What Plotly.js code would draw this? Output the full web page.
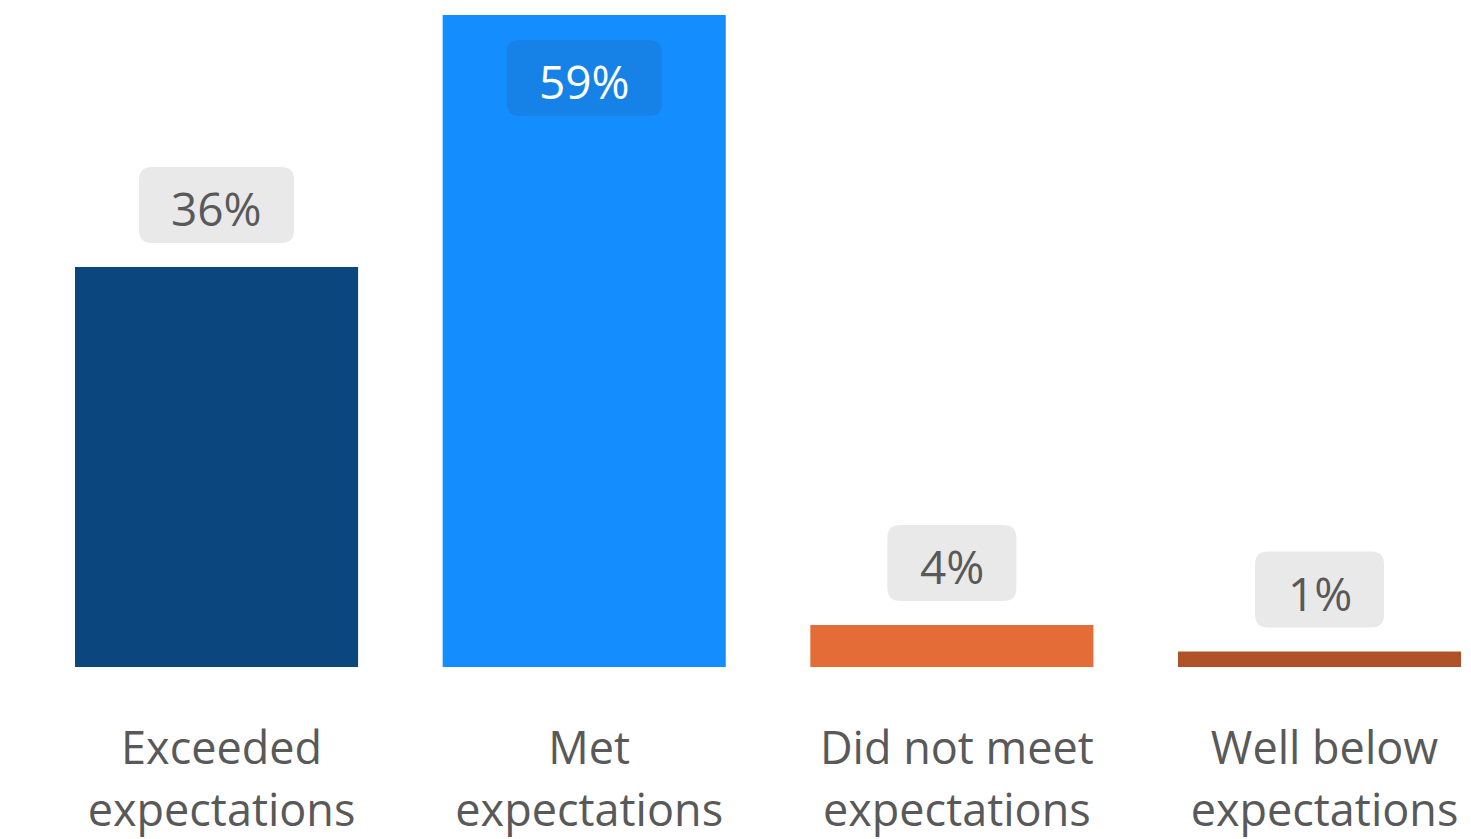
<!DOCTYPE html>
<html>
<head>
<meta charset="utf-8">
<script src="https://cdn.plot.ly/plotly-3.0.1.min.js"></script>
<style>html,body{margin:0;padding:0;background:#fff;}#chart{width:1471px;height:839px;}</style>
</head>
<body>
<div id="chart"></div>
<script>
// Data
const categories = ["Exceeded<br>expectations", "Met<br>expectations", "Did not meet<br>expectations", "Well below<br>expectations"];
const values = [36.2, 59, 3.8, 1.4];
const valueLabels = ["36%", "59%", "4%", "1%"];
const barColors = ["#0B467E", "#148DFF", "#E46C37", "#B05228"];

const FONT = "Open Sans, Noto Sans, DejaVu Sans, sans-serif";
const yMax = 60.36;
const maxVal = Math.max(...values);

function roundedRect(x0, x1, y0, y1, r) {
  return `M${x0 + r},${y0} L${x1 - r},${y0} Q${x1},${y0} ${x1},${y0 + r} ` +
         `L${x1},${y1 - r} Q${x1},${y1} ${x1 - r},${y1} L${x0 + r},${y1} ` +
         `Q${x0},${y1} ${x0},${y1 - r} L${x0},${y0 + r} Q${x0},${y0} ${x0 + r},${y0} Z`;
}

const shapes = [];
const annotations = [];
values.forEach((v, i) => {
  const inside = v === maxVal;
  const w = 26 * valueLabels[i].length + 77;
  const y0 = inside ? -101 : 24;
  const y1 = inside ? -25 : 100;
  shapes.push({
    type: "path",
    xref: "x", yref: "y",
    xsizemode: "pixel", ysizemode: "pixel",
    xanchor: i, yanchor: v,
    path: roundedRect(-w / 2, w / 2, y0, y1, 13),
    fillcolor: inside ? "#1682E8" : "#E9E9E9",
    line: { width: 0 },
    layer: "above"
  });
  annotations.push({
    x: i, y: v, xref: "x", yref: "y",
    text: valueLabels[i],
    showarrow: false,
    yanchor: "middle",
    yshift: (y0 + y1) / 2 - 3,
    font: { family: FONT, size: 46, color: inside ? "#FFFFFF" : "#595959" }
  });
});

const tickText = categories.map(c => c.split("<br>").map(s => `<span style="font-size:45px">${s}</span>`).join("<br>"));

const trace = {
  type: "bar",
  x: [0, 1, 2, 3],
  y: values,
  marker: { color: barColors },
  hoverinfo: "none"
};

const layout = {
  width: 1471, height: 839,
  margin: { l: 0, r: 0, t: 0, b: 172, pad: 0 },
  paper_bgcolor: "#FFFFFF", plot_bgcolor: "#FFFFFF",
  showlegend: false,
  bargap: 0.23,
  xaxis: {
    range: [-0.589, 3.412],
    tickmode: "array",
    tickvals: [0, 1, 2, 3],
    ticktext: tickText,
    showgrid: false, zeroline: false, showline: false,
    ticks: "",
    ticklabelstandoff: 48,
    ticklabelshift: 5,
    tickfont: { family: FONT, size: 48, color: "#595959" },
    fixedrange: true
  },
  yaxis: {
    range: [0, yMax],
    visible: false,
    showgrid: false, zeroline: false,
    fixedrange: true
  },
  shapes: shapes,
  annotations: annotations
};

Plotly.newPlot("chart", [trace], layout, { displayModeBar: false, staticPlot: true });
</script>
</body>
</html>
